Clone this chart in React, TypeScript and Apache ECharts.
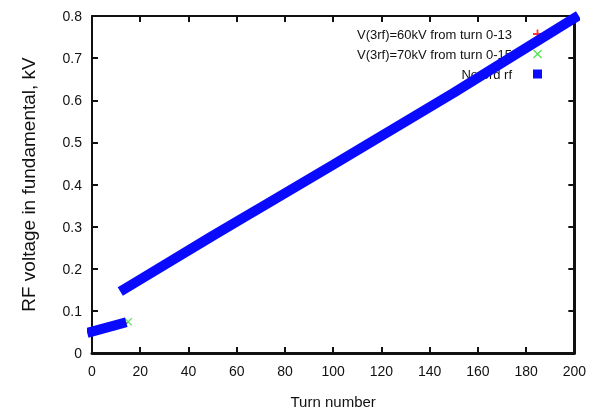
import React, { useEffect, useRef } from "react";
import * as echarts from "echarts";

// Values
const turnsNoRfLow = [0, 12.2];
const voltsNoRfLow = [0.051, 0.07];
const turnsNoRfHigh = [13.5, 50, 100, 150, 200];
const voltsNoRfHigh = [0.152, 0.278, 0.447, 0.618, 0.795];

const turns60 = [0, 6, 13];
const volts60 = [0.051, 0.06, 0.071];
const turns70 = [0, 8, 15];
const volts70 = [0.051, 0.062, 0.074];

const seriesNames = [
  "V(3rf)=60kV from turn 0-13",
  "V(3rf)=70kV from turn 0-15",
  "No 3rd rf",
];

const FONT = '"Liberation Sans", Arial, sans-serif';
const INK = "#111111";
const PLUS = "path://M4,0h2v4h4v2h-4v4h-2v-4h-4v-2h4z";
const CROSS = "path://M1,0L5,4L9,0L10,1L6,5L10,9L9,10L5,6L1,10L0,9L4,5L0,1z";

const zip = (xs: number[], ys: number[]) => xs.map((x, i) => [x, ys[i]]);

export default function App() {
  const ref = useRef<HTMLDivElement>(null);
  useEffect(() => {
    if (!ref.current) return;
    const chart = echarts.init(ref.current, undefined, { renderer: "svg" });
    const mkLine = (w: number) => ({ show: true, onZero: false, lineStyle: { color: INK, width: w } });
    const mkTick = () => ({ show: true, inside: true, length: 6, lineStyle: { color: INK, width: 2 } });
    const label = { color: INK, fontFamily: FONT, fontSize: 14 };
    chart.setOption({
      animation: false,
      grid: { left: 92, top: 16, right: 12, bottom: 60, containLabel: false },
      legend: {
        orient: "vertical",
        align: "right",
        right: 42,
        top: 22,
        itemWidth: 9,
        itemHeight: 9,
        itemGap: 6,
        z: 4,
        textStyle: { fontFamily: FONT, fontSize: 13, color: INK, lineHeight: 14, padding: [0, 16, 0, 0] },
        data: [
          { name: seriesNames[0], icon: PLUS },
          { name: seriesNames[1], icon: CROSS },
          { name: seriesNames[2], icon: "rect" },
        ],
      },
      xAxis: [
        {
          type: "value",
          min: 0,
          max: 200,
          interval: 20,
          position: "bottom",
          name: "Turn number",
          nameLocation: "middle",
          nameGap: 41,
          nameTextStyle: { fontFamily: FONT, fontSize: 15, color: INK },
          axisLine: mkLine(3),
          axisTick: mkTick(),
          axisLabel: { ...label, margin: 11 },
          splitLine: { show: false },
        },
        {
          type: "value",
          min: 0,
          max: 200,
          interval: 20,
          position: "top",
          axisLine: mkLine(2),
          axisTick: mkTick(),
          axisLabel: { show: false },
          splitLine: { show: false },
        },
      ],
      yAxis: [
        {
          type: "value",
          min: 0,
          max: 0.8,
          interval: 0.1,
          position: "left",
          name: "RF voltage in fundamental, kV",
          nameLocation: "middle",
          nameGap: 54,
          nameTextStyle: { fontFamily: FONT, fontSize: 19, color: INK },
          axisLine: mkLine(2),
          axisTick: mkTick(),
          axisLabel: { ...label, margin: 10, formatter: (v: number) => (v === 0 ? "0" : String(+v.toFixed(1))) },
          splitLine: { show: false },
        },
        {
          type: "value",
          min: 0,
          max: 0.8,
          interval: 0.1,
          position: "right",
          axisLine: mkLine(3),
          axisTick: mkTick(),
          axisLabel: { show: false },
          splitLine: { show: false },
        },
      ],
      series: [
        {
          name: seriesNames[0],
          type: "scatter",
          data: zip(turns60, volts60),
          symbol: PLUS,
          symbolSize: 8,
          itemStyle: { color: "#ff0000" },
          z: 2,
        },
        {
          name: seriesNames[1],
          type: "scatter",
          data: zip(turns70, volts70),
          symbol: CROSS,
          symbolSize: 8,
          itemStyle: { color: "#22e022" },
          z: 3,
        },
        {
          name: seriesNames[2],
          type: "line",
          data: zip(turnsNoRfLow, voltsNoRfLow),
          symbol: "none",
          lineStyle: { color: "#0a0aff", width: 10, cap: "square" },
          itemStyle: { color: "#0a0aff" },
          z: 5,
        },
        {
          name: seriesNames[2],
          type: "line",
          data: zip(turnsNoRfHigh, voltsNoRfHigh),
          symbol: "none",
          lineStyle: { color: "#0a0aff", width: 10, cap: "square" },
          itemStyle: { color: "#0a0aff" },
          z: 5,
        },
      ],
    });
    return () => chart.dispose();
  }, []);
  return <div ref={ref} style={{ position: "fixed", left: 0, top: 0, width: 589, height: 414 }} />;
}
